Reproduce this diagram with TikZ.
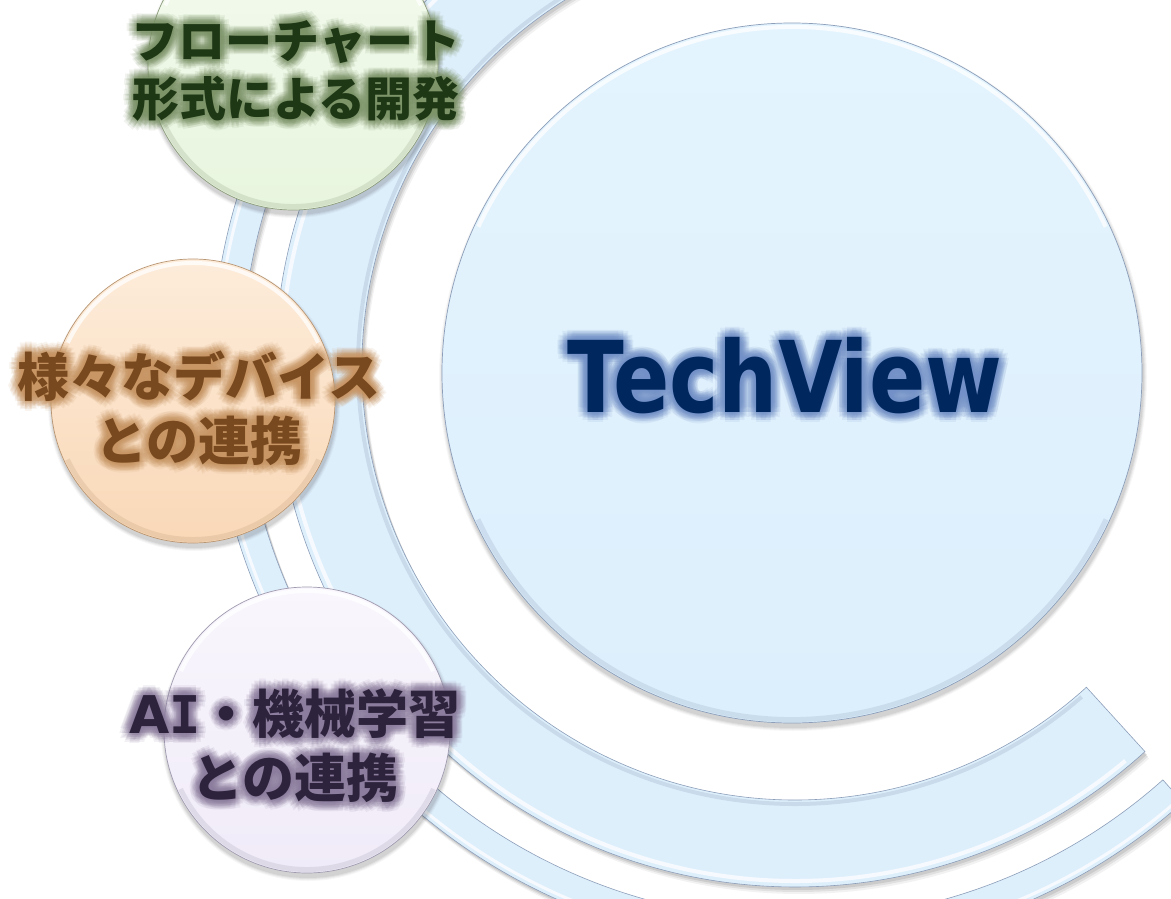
\documentclass[tikz,border=0pt]{standalone}
\usepackage{fontspec}
\usepackage{graphicx}
\newfontfamily\jpfont{Noto Sans CJK JP}
\newfontfamily\dejavu{DejaVu Sans}
\newfontfamily\dejavumono{DejaVu Sans Mono}

\definecolor{arcfill}{RGB}{222,239,252}
\definecolor{arcedge}{RGB}{140,158,185}
\definecolor{bigtop}{RGB}{228,244,254}
\definecolor{bigbot}{RGB}{220,239,252}
\definecolor{bigedge}{RGB}{140,158,185}
\definecolor{grtop}{RGB}{244,251,239}
\definecolor{grbot}{RGB}{232,245,222}
\definecolor{gredge}{RGB}{140,155,125}
\definecolor{ortop}{RGB}{253,236,218}
\definecolor{orbot}{RGB}{249,216,183}
\definecolor{oredge}{RGB}{185,150,115}
\definecolor{putop}{RGB}{249,246,253}
\definecolor{pubot}{RGB}{240,235,248}
\definecolor{puedge}{RGB}{160,155,175}
\definecolor{grtext}{RGB}{30,55,20}
\definecolor{grglow}{RGB}{125,148,105}
\definecolor{ortext}{RGB}{120,72,30}
\definecolor{orglow}{RGB}{200,150,100}
\definecolor{putext}{RGB}{45,35,60}
\definecolor{puglow}{RGB}{140,125,158}
\definecolor{tvtext}{RGB}{0,40,95}
\definecolor{tvglow}{RGB}{115,145,200}

\tikzset{
  bubble/.style={circle, inner sep=0pt, line width=0.7pt},
  lbl/.style={align=center, inner sep=0pt},
  band/.style={fill=arcfill, draw=arcedge, line width=0.6pt},
}

% name, x, y, r, top colour, bottom colour, edge colour
\newcommand{\bubbleshape}[7]{%
  \foreach \k/\op in {8/0.03,6/0.04,4/0.05,2/0.06}{%
    \fill[black,opacity=\op] (#2+1,#3+4) circle ({#4+\k*0.5});}
  \node[bubble, minimum size={2*#4pt}, top color=#5, bottom color=#6, draw=#7] (#1) at (#2,#3) {};
  \draw[white, opacity=0.75, line width=4pt] (#2,#3) ++(205:#4-4) arc[start angle=205,end angle=335,radius=#4-4];
  \draw[#7, opacity=0.22, line width=5pt] (#2,#3) ++(25:#4-3.5) arc[start angle=25,end angle=155,radius=#4-3.5];
}

% name, x, y, glow colour, text colour, font, text, anchor
\newcommand{\glowtext}[8]{%
  \foreach \rr in {2,4,6,8,10}{%
    \foreach \aa in {0,30,...,330}{%
      \node[lbl, anchor=#8, font=#6, text=#4, text opacity=0.11, shift={(\aa:\rr)}] (#1g\rr x\aa) at (#2,#3) {#7};%
    }%
  }%
  \node[lbl, anchor=#8, font=#6, text=#5] (#1) at (#2,#3) {#7};%
}

\begin{document}
\begin{tikzpicture}[x=1pt,y=-1pt]
\useasboundingbox (0,0) rectangle (1171,899);
\clip (0,0) rectangle (1171,899);
\fill[white] (0,0) rectangle (1171,899);

% shadows of the arcs
\foreach \dx/\dy/\op in {4/7/0.05,3/5/0.07,2/3/0.09}{%
  \fill[black, opacity=\op, shift={(\dx,\dy)}] (795,367) ++(47.7:520) arc[start angle=47.7,end angle=250,radius=520] -- ++(70:87) arc[start angle=250,end angle=47.7,radius=433] -- cycle;
  \fill[black, opacity=\op, shift={(\dx,\dy)}] (795,367) ++(48.3:583) arc[start angle=48.3,end angle=250,radius=583] -- ++(70:30) arc[start angle=250,end angle=48.3,radius=553] -- cycle;
}
% wide band
\path[band] (795,367) ++(47.7:520) arc[start angle=47.7,end angle=250,radius=520] -- ++(70:87) arc[start angle=250,end angle=47.7,radius=433] -- cycle;
\draw[white, opacity=0.75, line width=4pt] (795,367) ++(50:514) arc[start angle=50,end angle=250,radius=514];
\draw[arcedge, opacity=0.25, line width=4pt] (795,367) ++(49:437) arc[start angle=49,end angle=250,radius=437];
% thin arc
\path[band] (795,367) ++(48.3:583) arc[start angle=48.3,end angle=250,radius=583] -- ++(70:30) arc[start angle=250,end angle=48.3,radius=553] -- cycle;
\draw[white, opacity=0.75, line width=3pt] (795,367) ++(49:578) arc[start angle=49,end angle=250,radius=578];

% central circle
\bubbleshape{main}{792}{373}{350}{bigtop}{bigbot}{bigedge}

% three small circles
\bubbleshape{flow}{293}{65}{145}{grtop}{grbot}{gredge}
\bubbleshape{dev}{193}{401}{142}{ortop}{orbot}{oredge}
\bubbleshape{ai}{307}{730}{143}{putop}{pubot}{puedge}

% labels
\glowtext{tflow}{296}{71}{grglow}{grtext}{\jpfont\bfseries\fontsize{47}{58}\selectfont}{フローチャート\\形式による開発}{center}
\glowtext{tdev}{199}{408}{orglow}{ortext}{\jpfont\bfseries\fontsize{52}{64}\selectfont}{様々なデバイス\\との連携}{center}
\glowtext{tai}{295}{746}{puglow}{putext}{\jpfont\bfseries\fontsize{52}{64}\selectfont}{{\dejavu\bfseries A}{\dejavumono\bfseries I}・機械学習\\との連携}{center}
\glowtext{ttv}{785}{412}{tvglow}{tvtext}{\dejavu\bfseries\fontsize{99}{110}\selectfont}{\scalebox{0.84}[1]{TechView}}{base}
\end{tikzpicture}
\end{document}
